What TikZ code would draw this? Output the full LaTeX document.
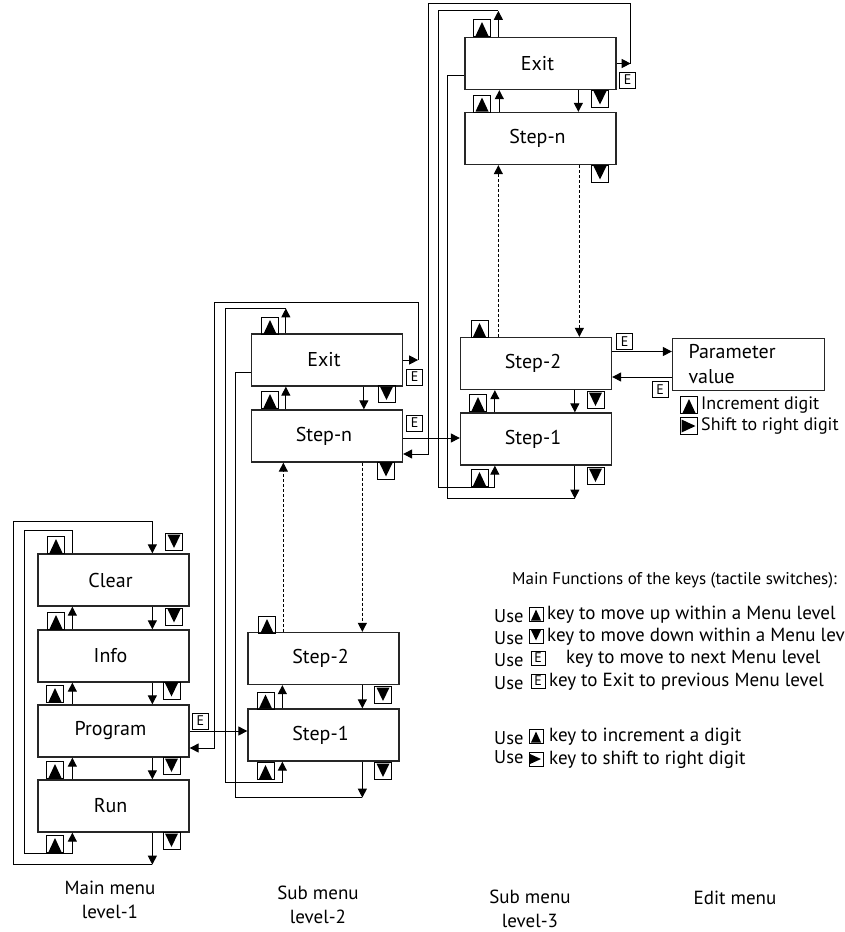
\documentclass[tikz,border=0pt]{standalone}
\usepackage{fontspec}
\setmainfont{PT Sans}
\usetikzlibrary{arrows.meta}

\tikzset{
  menubox/.style={draw=black!85, line width=1.3pt, minimum width=151pt, minimum height=52pt,
    inner sep=0pt, font=\fontsize{20}{25}\selectfont},
  leftish/.style={execute at begin node={\hspace*{-6pt}}},
  keybox/.style={draw, line width=0.9pt, inner sep=0pt, minimum width=17pt, minimum height=17pt},
  upkey/.style={keybox, path picture={
    \fill ([shift={(2pt,0.5pt)}]path picture bounding box.south west)
      -- ([shift={(-2pt,0.5pt)}]path picture bounding box.south east)
      -- ([yshift=-2.5pt]path picture bounding box.north) -- cycle;}},
  downkey/.style={keybox, path picture={
    \fill ([shift={(2pt,-1pt)}]path picture bounding box.north west)
      -- ([shift={(-2pt,-1pt)}]path picture bounding box.north east)
      -- ([yshift=2.5pt]path picture bounding box.south) -- cycle;}},
  rightkey/.style={keybox, path picture={
    \fill ([shift={(1pt,-2pt)}]path picture bounding box.north west)
      -- ([shift={(1pt,2pt)}]path picture bounding box.south west)
      -- ([xshift=-2pt]path picture bounding box.east) -- cycle;}},
  smallkey/.style={minimum width=14pt, minimum height=14pt},
  ekey/.style={keybox, minimum width=16pt, minimum height=16pt, font=\fontsize{14}{14}\selectfont},
  wire/.style={line width=1pt},
  arr/.style={wire, -{Triangle[length=9pt,width=9pt]}},
  dotarr/.style={arr, line width=1pt, dash pattern=on 3pt off 2pt},
  lbl/.style={font=\fontsize{19}{24}\selectfont, align=center},
  keytext/.style={font=\fontsize{19}{22}\selectfont, anchor=west, inner sep=0pt},
  usetext/.style={keytext, font=\fontsize{18.5}{20}\selectfont},
}

\begin{document}
\begin{tikzpicture}[x=1pt, y=-1pt]
  \def\upx{35pt}
  \def\dnx{115pt}
  \useasboundingbox (0,0) rectangle (845,932);
  %
  % main menu, level-1
  \node[menubox, leftish] (clear) at (113.5,580) {Clear};
  \node[menubox, leftish] (info) at (113.5,656) {Info};
  \node[menubox, leftish] (prog) at (113.5,731) {Program};
  \node[menubox, leftish] (run) at (113.5,806) {Run};
  %
  \draw[arr] ([xshift=\upx]info.north west) -- ([xshift=\upx]clear.south west);
  \draw[arr] ([xshift=\upx]prog.north west) -- ([xshift=\upx]info.south west);
  \draw[arr] ([xshift=\upx]run.north west) -- ([xshift=\upx]prog.south west);
  \draw[arr] ([xshift=\dnx]clear.south west) -- ([xshift=\dnx]info.north west);
  \draw[arr] ([xshift=\dnx]info.south west) -- ([xshift=\dnx]prog.north west);
  \draw[arr] ([xshift=\dnx]prog.south west) -- ([xshift=\dnx]run.north west);
  %
  \draw[arr] ([xshift=\upx]clear.north west) |- (24,530) -- (24,853) -| ([xshift=\upx]run.south west);
  \draw[arr] ([xshift=\dnx]run.south west) -- ++(0,32) coordinate (runb);
  \draw[arr] (runb) -| (13,521) -| ([xshift=\dnx]clear.north west);
  %
  \node[upkey] (ku1) at (56,545) {};
  \node[upkey] (ku2) at (56,621) {};
  \node[upkey] (ku3) at (55,694) {};
  \node[upkey] (ku4) at (55,770) {};
  \node[upkey] (ku5) at (55,844) {};
  \node[downkey] (kd1) at (174,542) {};
  \node[downkey] (kd2) at (174,616.5) {};
  \node[downkey] (kd3) at (171.5,690.5) {};
  \node[downkey] (kd4) at (171.5,766) {};
  \node[downkey] (kd5) at (171.5,841) {};
  \node[ekey] (ke1) at (200.5,721) {E};
  %
  % sub menu, level-2
  \node[menubox, leftish] (exitB) at (327,360) {Exit};
  \node[menubox, leftish] (stepnB) at (327,436) {Step-n};
  \node[menubox, leftish] (step2B) at (323.5,658.5) {Step-2};
  \node[menubox, leftish] (step1B) at (323.5,735) {Step-1};
  %
  \draw[arr] (prog.east) -- (prog.east -| step1B.west);
  \draw[arr] (exitB.east) -- ++(15,0) coordinate (exBe);
  \draw[arr] (exBe) |- (214,302) |- ([yshift=-17pt]prog.east);
  %
  \draw[arr] ([xshift=\upx]stepnB.north west) -- ([xshift=\upx]exitB.south west);
  \draw[arr] ([xshift=\dnx-2pt]exitB.south west) -- ([xshift=\dnx-2pt]stepnB.north west);
  \draw[arr] ([xshift=\upx]step1B.north west) -- ([xshift=\upx]step2B.south west);
  \draw[arr] ([xshift=\dnx]step2B.south west) -- ([xshift=\dnx]step1B.north west);
  \draw[dotarr] ([xshift=\dnx]step2B.north west |- stepnB.south) -- ([xshift=\dnx]step2B.north west);
  \draw[dotarr] ([xshift=\upx+1pt]step2B.north west) -- ([xshift=\upx+1pt]step2B.north west |- stepnB.south);
  %
  \draw[arr] ([xshift=\upx]exitB.north west) -- ++(0,-25) coordinate (exBn);
  \draw[arr] (exBn) -| (225,782) -| ([xshift=\upx]step1B.south west);
  \draw[arr] ([xshift=\dnx]step1B.south west) -- ++(0,36) coordinate (s1Bs);
  \draw[wire] (s1Bs) -| (235,372) -- ([yshift=-12pt]exitB.west);
  %
  \node[upkey] (ku6) at (270,326) {};
  \node[upkey] (ku7) at (270,400) {};
  \node[upkey] (ku8) at (267,625) {};
  \node[upkey] (ku9) at (265.5,700.5) {};
  \node[upkey] (ku10) at (265.5,771) {};
  \node[downkey] (kd6) at (386.5,394) {};
  \node[downkey] (kd7) at (386,470.5) {};
  \node[downkey] (kd8) at (383,695) {};
  \node[downkey] (kd9) at (383,771) {};
  \node[ekey] (ke2) at (414.5,377) {E};
  \node[ekey] (ke3) at (414.5,423) {E};
  %
  % sub menu, level-3
  \node[menubox, leftish] (exitC) at (540.5,63.5) {Exit};
  \node[menubox, leftish] (stepnC) at (540.5,138.5) {Step-n};
  \node[menubox, leftish] (step2C) at (536,363.5) {Step-2};
  \node[menubox, leftish] (step1C) at (536,439) {Step-1};
  %
  \draw[arr] ([yshift=-2pt]stepnB.east) -- ([yshift=-2pt]stepnB.east -| step1C.west);
  \draw[arr] ([xshift=\upx]stepnC.north west) -- ([xshift=\upx]exitC.south west);
  \draw[arr] ([xshift=\dnx-1pt]exitC.south west) -- ([xshift=\dnx-1pt]stepnC.north west);
  \draw[arr] ([xshift=\upx]step1C.north west) -- ([xshift=\upx]step2C.south west);
  \draw[arr] ([xshift=\dnx]step2C.south west) -- ([xshift=\dnx]step1C.north west);
  \draw[dotarr] ([xshift=\dnx]stepnC.south west) -- ([xshift=\dnx]stepnC.south west |- step2C.north);
  \draw[dotarr] ([xshift=\upx-1pt]stepnC.south west |- step2C.north) -- ([xshift=\upx-1pt]stepnC.south west);
  %
  \draw[arr] ([xshift=\upx-1pt]exitC.north west) -- ++(0,-26) coordinate (exCn);
  \draw[arr] (exCn) -| (438,487) -| ([xshift=\upx]step1C.south west);
  \draw[arr] (exitC.east) -- ++(14,0) coordinate (exCe);
  \draw[arr] (exCe) |- (428,3) |- ([yshift=-18pt]stepnB.east);
  \draw[arr] ([xshift=\dnx]step1C.south west) -- ++(0,33) coordinate (s1Cs);
  \draw[wire] (s1Cs) -| (447,75) -- ([yshift=-11.5pt]exitC.west);
  %
  \node[upkey] (ku11) at (482,28) {};
  \node[upkey] (ku12) at (482,103.5) {};
  \node[upkey] (ku13) at (479.5,329) {};
  \node[upkey] (ku14) at (478,403) {};
  \node[upkey] (ku15) at (479.5,478) {};
  \node[downkey] (kd10) at (600,98.5) {};
  \node[downkey] (kd11) at (600,173.5) {};
  \node[downkey] (kd12) at (595.5,400) {};
  \node[downkey] (kd13) at (595.5,476) {};
  \node[ekey] (ke4) at (627.5,80) {E};
  \node[ekey] (ke5) at (624.5,341.5) {E};
  %
  % edit menu
  \node[menubox, text width=120pt, align=left, inner xsep=16pt] (param) at (748.5,364.5) {Parameter\\value};
  \draw[arr] ([yshift=12pt]step2C.east) -- ([yshift=12pt]step2C.east -| param.west);
  \draw[arr] ([yshift=-13.5pt]step2C.east -| param.west) -- ([yshift=-13.5pt]step2C.east);
  \node[ekey] (ke6) at (660,389.5) {E};
  \node[upkey] (pu) at (689,405) {};
  \node[keytext, font=\fontsize{18}{22}\selectfont] (put) at (701,405) {Increment digit};
  \node[rightkey] (pr) at (689,426) {};
  \node[keytext, font=\fontsize{18}{22}\selectfont] (prt) at (701,426) {Shift to right digit};
  %
  % key functions
  \node[keytext, font=\fontsize{17}{20}\selectfont] (title) at (512,580) {Main Functions of the keys (tactile switches):};
  \node[usetext] (use1) at (494,616) {Use};
  \node[upkey, smallkey] (lu1) at (536,614) {};
  \node[keytext] (txt1) at (547,615) {key to move up within a Menu level};
  \node[usetext] (use2) at (494,638) {Use};
  \node[downkey, smallkey] (ld1) at (536,636) {};
  \node[keytext] (txt2) at (547,637) {key to move down within a Menu level};
  \node[usetext] (use3) at (494,660) {Use};
  \node[ekey, smallkey] (le1) at (538,658) {E};
  \node[keytext] (txt3) at (566,659) {key to move to next Menu level};
  \node[usetext] (use4) at (494,683) {Use};
  \node[ekey, smallkey] (le2) at (538,681) {E};
  \node[keytext] (txt4) at (549,682) {key to Exit to previous Menu level};
  \node[usetext] (use5) at (494,738) {Use};
  \node[upkey, smallkey] (lu2) at (536,736) {};
  \node[keytext] (txt5) at (549,737) {key to increment a digit};
  \node[usetext] (use6) at (494,757) {Use};
  \node[rightkey, smallkey] (lr1) at (536,759) {};
  \node[keytext] (txt6) at (549,760) {key to shift to right digit};
  %
  % column labels
  \node[lbl] (lab1) at (110,900) {Main menu\\level-1};
  \node[lbl] (lab2) at (318,904.5) {Sub menu\\level-2};
  \node[lbl] (lab3) at (530,909) {Sub menu\\level-3};
  \node[lbl] (lab4) at (735,898) {Edit menu};
\end{tikzpicture}
\end{document}
